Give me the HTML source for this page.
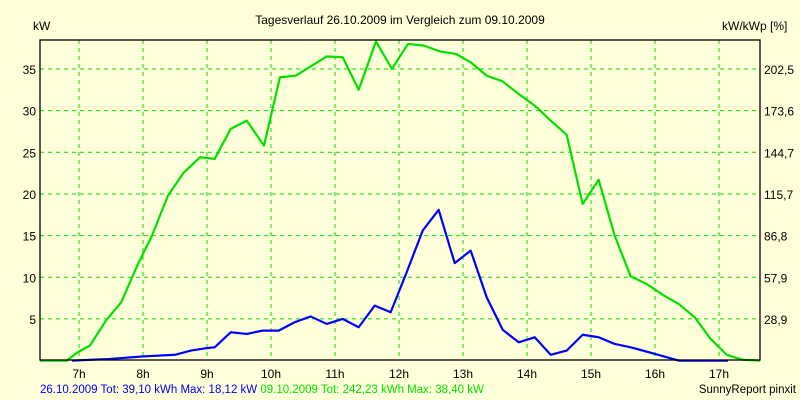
<!DOCTYPE html>
<html><head><meta charset="utf-8"><style>
body{margin:0;background:#ffffd9;}
svg{display:block;font-family:"Liberation Sans",sans-serif;}
</style></head><body>
<svg id="chart" width="800" height="400" viewBox="0 0 800 400">
<rect width="800" height="400" fill="#ffffd9"/>
<text x="400" y="24" text-anchor="middle" font-size="12" fill="#000">Tagesverlauf 26.10.2009 im Vergleich zum 09.10.2009</text>
<text x="33" y="30" font-size="12" fill="#000">kW</text>
<text x="722" y="30" font-size="12" fill="#000">kW/kWp [%]</text>
<g id="grid"></g>
<g id="series"></g>
<rect x="40" y="40" width="720" height="320" fill="none" stroke="#000" stroke-width="1.3"/>
<g id="labels"></g>
<text x="40" y="393" font-size="11.5"><tspan fill="#0000ff">26.10.2009 Tot: 39,10 kWh Max: 18,12 kW</tspan><tspan fill="#00e000"> 09.10.2009 Tot: 242,23 kWh Max: 38,40 kW</tspan></text>
<text x="796" y="393" font-size="11.5" text-anchor="end" fill="#000">SunnyReport pinxit</text>
</svg>
<script>
const hourTicks = [7,8,9,10,11,12,13,14,15,16,17];
const kwTicks = [5,10,15,20,25,30,35];
const pctTicks = ["28,9","57,9","86,8","115,7","144,7","173,6","202,5"];
const greenTimes = [6.39,6.81,6.98,7.17,7.42,7.66,7.91,8.14,8.39,8.64,8.89,9.12,9.37,9.62,9.89,10.14,10.39,10.62,10.87,11.12,11.37,11.64,11.89,12.14,12.39,12.64,12.89,13.12,13.37,13.62,13.87,14.12,14.37,14.62,14.87,15.12,15.37,15.62,15.87,16.12,16.37,16.62,16.87,17.12,17.37,17.64];
const greenKw = [0,0,1.0,1.8,4.8,7,11.4,15,19.8,22.6,24.4,24.2,27.8,28.8,25.8,34,34.2,35.3,36.5,36.4,32.5,38.3,35,38,37.8,37.1,36.8,35.8,34.2,33.5,32,30.6,28.8,27.1,18.8,21.7,15,10.1,9.2,7.9,6.8,5.2,2.6,0.7,0.1,0];
const blueTimes = [6.89,7.48,8.0,8.5,8.75,9.0,9.12,9.37,9.62,9.87,10.12,10.37,10.62,10.87,11.12,11.37,11.62,11.87,12.12,12.37,12.62,12.87,13.12,13.37,13.62,13.87,14.12,14.37,14.62,14.87,15.12,15.37,15.62,16.0,16.37,17.14];
const blueKw = [0,0.2,0.5,0.7,1.2,1.5,1.6,3.4,3.2,3.6,3.6,4.6,5.3,4.4,5.0,4.0,6.6,5.8,10.6,15.6,18.1,11.7,13.2,7.6,3.7,2.2,2.8,0.7,1.2,3.1,2.8,2.0,1.6,0.8,0,0];

const NS="http://www.w3.org/2000/svg";
const X = h => 79 + (h-7)*64;
const Y = v => 360.6 - v*8.333;
const grid=document.getElementById('grid'), labels=document.getElementById('labels'), series=document.getElementById('series');
function mk(tag,attrs,parent){const e=document.createElementNS(NS,tag);for(const k in attrs)e.setAttribute(k,attrs[k]);parent.appendChild(e);return e;}
hourTicks.forEach(h=>{
  const l=mk('line',{x1:X(h),x2:X(h),y1:40,y2:360,stroke:'#00e000','stroke-dasharray':'4,4','stroke-width':1},grid);
  
  
  const t=mk('text',{x:X(h),y:378,'text-anchor':'middle','font-size':12},labels);
  t.textContent=h+'h';
  
  
});
kwTicks.forEach((v,i)=>{
  const l=mk('line',{x1:40,x2:760,y1:Y(v),y2:Y(v),stroke:'#00e000','stroke-dasharray':'4,4','stroke-width':1},grid);
  
  
  const t=mk('text',{x:36,y:Y(v)+5,'text-anchor':'end','font-size':12},labels);
  t.textContent=v;
  
  
  const r=mk('text',{x:764,y:Y(v)+5,'font-size':12},labels);
  r.textContent=pctTicks[i];
  
  
});
function line(times,vals,color,name){
  const p=mk('polyline',{points:times.map((t,i)=>X(t)+','+Y(vals[i])).join(' '),fill:'none',stroke:color,'stroke-width':2.2,'stroke-linejoin':'round'},series);
  
  
}
line(greenTimes,greenKw,'#00e000','series-09-10-2009');
line(blueTimes,blueKw,'#0000ff','series-26-10-2009');
</script>
</body></html>
